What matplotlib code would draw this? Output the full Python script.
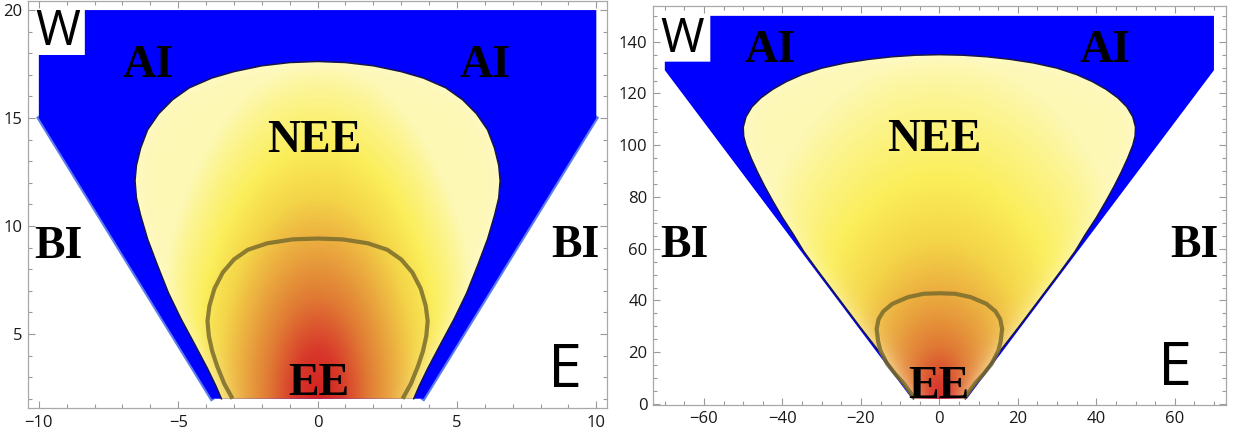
import matplotlib
matplotlib.use("Agg")
import matplotlib.pyplot as plt
import numpy as np
from matplotlib.colors import LinearSegmentedColormap, to_rgb
from matplotlib.patches import Polygon
from matplotlib.ticker import MultipleLocator

plt.rcParams['font.family'] = ['Open Sans', 'DejaVu Sans']

# ---- left panel (small range) ----
# outer allowed region (AI), with the notch for the W label
blue_left_x = [-10, -10, -8.35, -8.35, 10, 10, 3.8, -3.8]
blue_left_y = [15, 17.92, 17.92, 20, 20, 15, 2, 2]
# NEE boundary, right half, top -> bottom (mirrored for the left half)
nee_left_hx = [0, 1.0, 2.0, 3.0, 3.8, 4.6, 5.2, 5.7, 6.1, 6.35, 6.5, 6.55, 6.5,
               6.35, 6.1, 5.75, 5.35, 4.9, 4.4, 3.95, 3.65, 3.45]
nee_left_hy = [17.62, 17.57, 17.42, 17.15, 16.85, 16.4, 15.85, 15.2, 14.45, 13.6,
               12.8, 12.1, 11.3, 10.5, 9.4, 8.2, 6.9, 5.7, 4.5, 3.4, 2.6, 2.0]
# EE contour, right half, top -> bottom
ee_left_hx = [0, 0.9, 1.8, 2.5, 3.0, 3.4, 3.7, 3.88, 3.95, 3.9, 3.78, 3.6, 3.35, 3.05]
ee_left_hy = [9.42, 9.38, 9.2, 8.9, 8.45, 7.85, 7.1, 6.3, 5.6, 4.9, 4.2, 3.5, 2.7, 2.0]

# ---- right panel (large range) ----
blue_right_x = [-70, -70, -58.4, -58.4, 70, 70, 7, -7]
blue_right_y = [129, 132.3, 132.3, 150, 150, 129, 2, 2]
nee_right_hx = [0, 6, 12, 18, 24, 30, 35, 39, 42.5, 45.5, 47.8, 49.3, 50.0, 49.9,
                49.3, 48.0, 46.3, 44.5, 42.5, 40.0, 37.2, 34.6, 31.0, 25.8, 20.1, 13.2, 6.6]
nee_right_hy = [135.0, 134.8, 134.2, 133.2, 131.8, 129.8, 127.3, 124.6, 121.6, 118.3,
                114.8, 111.0, 107.0, 103.5, 100.0, 95.0, 89.4, 84.0, 78.5, 72.0,
                65.5, 59.0, 51.5, 41.0, 29.5, 16.0, 2.0]
ee_right_hx = [0, 4, 8, 12, 14.3, 15.5, 16.0, 15.6, 15.0, 13.3, 11.2, 9.1, 7.2, 6.3]
ee_right_hy = [42.8, 42.6, 41.3, 38.7, 35.8, 32.8, 29.0, 24.0, 20.5, 15.5, 11.5, 8.0, 4.0, 2.2]

# colour of the NEE shading, from the bottom centre outwards
shade_stops = [0.0, 0.14, 0.3, 0.45, 0.6, 0.75, 0.9, 1.0]
shade_colors = ['#d42020', '#d8382a', '#e07a34', '#eaa83e', '#f4d448', '#fbee5a',
                '#fcf48c', '#fdf8b4']
nee_cmap = LinearSegmentedColormap.from_list('nee', list(zip(shade_stops, shade_colors)))


def mirror(hx, hy):
    hx = np.asarray(hx, float)
    hy = np.asarray(hy, float)
    return np.concatenate([-hx[::-1], hx[1:]]), np.concatenate([hy[::-1], hy[1:]])


def shade(ax, bx, by, sx, sy, gamma):
    X, Y = np.meshgrid(np.linspace(bx.min(), bx.max(), 320),
                       np.linspace(by.min(), by.max(), 320))
    r = np.clip(np.hypot(X / sx, (Y - 2) / sy), 0, 1) ** gamma
    rgb = nee_cmap(r)[..., :3]
    # paler near the boundary (distance in pixels)
    pts = ax.transData.transform(np.column_stack([X.ravel(), Y.ravel()]))
    edge = ax.transData.transform(np.column_stack([bx, by]))
    d = np.full(len(pts), np.inf)
    for p, q in zip(edge[:-1], edge[1:]):
        v = q - p
        t = np.clip(((pts - p) @ v) / (v @ v), 0, 1)
        dd = pts - p - t[:, None] * v
        d = np.minimum(d, np.hypot(dd[:, 0], dd[:, 1]))
    w = (0.5 * np.exp(-d / 10)).reshape(X.shape)[..., None]
    rgb = rgb * (1 - w) + np.array(to_rgb('#fffbd0')) * w
    im = ax.imshow(rgb, origin='lower', aspect='auto', interpolation='bilinear',
                   extent=(bx.min(), bx.max(), by.min(), by.max()), zorder=2)
    patch = Polygon(np.column_stack([bx, by]), closed=True, facecolor='none',
                    edgecolor='none')
    ax.add_patch(patch)
    im.set_clip_path(patch)


def panel(ax, xlim, ylim, bx, by, nee_h, ee_h, sx, sy, gamma, fringe):
    ax.set_xlim(xlim)
    ax.set_ylim(ylim)
    ax.fill(bx, by, color='#0000fe', lw=0, zorder=1)
    if fringe:
        ax.plot(bx[-3:-1], by[-3:-1], color='#5b7bf2', lw=3, zorder=0.9)
        ax.plot([bx[0], bx[-1]], [by[0], by[-1]], color='#5b7bf2', lw=3, zorder=0.9)
    nx, ny = mirror(*nee_h)
    shade(ax, nx, ny, sx, sy, gamma)
    ax.plot(nx, ny, color='#16164a', lw=1.1, zorder=3)
    ex, ey = mirror(*ee_h)
    ax.plot(ex, ey, color='#7a6c2c', lw=3, alpha=0.85, zorder=4,
            solid_capstyle='butt', solid_joinstyle='round')
    ax.set_xlim(xlim)
    ax.set_ylim(ylim)
    ax.tick_params(which='both', direction='in', top=True, right=True,
                   colors='#9a9a9a', labelcolor='#1a1a1a', labelsize=12, width=0.8)
    ax.tick_params(which='major', length=5)
    ax.tick_params(which='minor', length=2.8)
    ax.tick_params(axis='x', pad=5)
    ax.tick_params(axis='y', pad=4)
    for s in ax.spines.values():
        s.set_color('#a8a8a8')
        s.set_linewidth(0.9)


serif = dict(family='Liberation Serif', weight='bold', fontsize=33,
             ha='center', va='baseline', zorder=6)
sans = dict(ha='center', va='baseline', zorder=6)

fig = plt.figure(figsize=(12.42, 4.36), dpi=100)
ax1 = fig.add_axes([0.0223, 0.0642, 0.4668, 0.9335])
ax2 = fig.add_axes([0.5258, 0.0722, 0.4611, 0.914])

panel(ax1, (-10.4, 10.4), (1.57, 20.42), np.array(blue_left_x), np.array(blue_left_y),
      (nee_left_hx, nee_left_hy), (ee_left_hx, ee_left_hy), 6.0, 15.6, 1.0, True)
ax1.xaxis.set_major_locator(MultipleLocator(5))
ax1.xaxis.set_minor_locator(MultipleLocator(1))
ax1.yaxis.set_major_locator(MultipleLocator(5))
ax1.yaxis.set_minor_locator(MultipleLocator(1))
ax1.set_yticks([5, 10, 15, 20])

ax1.text(-6.1, 16.88, 'AI', **serif)
ax1.text(6.0, 16.88, 'AI', **serif)
ax1.text(-0.1, 13.44, 'NEE', **serif)
ax1.text(-9.31, 8.53, 'BI', **serif)
ax1.text(9.24, 8.55, 'BI', **serif)
ax1.text(0.04, 2.18, 'EE', **serif)
ax1.text(8.87, 2.56, 'E', fontsize=44, **sans)
ax1.text(-9.34, 18.38, 'W', fontsize=35, **sans)

panel(ax2, (-73, 73), (-0.2, 153.8), np.array(blue_right_x), np.array(blue_right_y),
      (nee_right_hx, nee_right_hy), (ee_right_hx, ee_right_hy), 55.0, 133.0, 0.65, False)
ax2.xaxis.set_major_locator(MultipleLocator(20))
ax2.xaxis.set_minor_locator(MultipleLocator(5))
ax2.yaxis.set_major_locator(MultipleLocator(20))
ax2.yaxis.set_minor_locator(MultipleLocator(5))

ax2.text(-43.3, 132.3, 'AI', **serif)
ax2.text(42.2, 132.3, 'AI', **serif)
ax2.text(-1.3, 97.9, 'NEE', **serif)
ax2.text(-65.0, 56.9, 'BI', **serif)
ax2.text(65.1, 56.9, 'BI', **serif)
ax2.text(-0.2, 2.2, 'EE', **serif)
ax2.text(60.0, 7.3, 'E', fontsize=44, **sans)
ax2.text(-65.5, 136.1, 'W', fontsize=34, **sans)

fig.savefig('out.png', dpi=100)
